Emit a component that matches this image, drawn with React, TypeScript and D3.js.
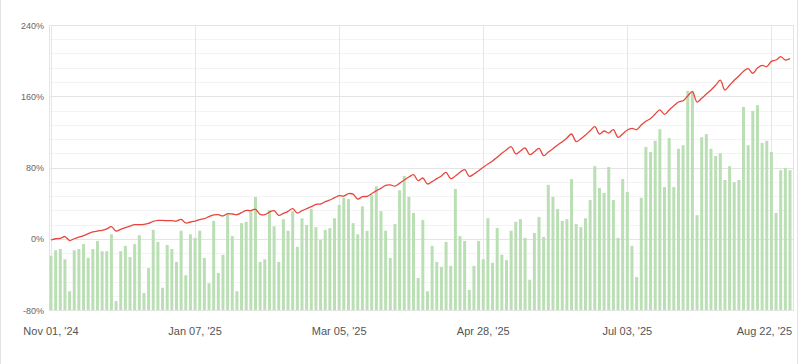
import React from "react";
import * as d3 from "d3";

const barValues: number[] = [
  -19, -13, -11.5, -23, -59, -13, -11.5, -6, -21.5, -11.5, -2.5, -14, -14, 5, -70, -14, -8, -20.5, -6, 4, -61, -33, 10, -3.5, -55, -7, -11.5, -26, 9, -41, 5, 1, 9,
  -21.5, -50, 20, -38.5, -18, 28, 3, -59, 17.5, 19, 31, 47, -26, -23, 32, 14, -26, 22, 9, 31, -9, 23, 15.5, 33.5, 13, -1.5, 10, 12, 23, 38, 46, 44.5,
  17.5, 5, 36.5, 9, 49, 59, 31, 9, -21.5, 16.5, 54.5, 70.5, 47, 29, -44, 21, -59, -8, -26, -31.5, -3.5, -30.5, 56, 3, -2.5, -57.5, -30.5, -2.5, -23, 23, -27, 12,
  -18, -24, 9, 19, 22, 1, -46, 6.5, 24.5, 2, 60.5, 47, 33.5, 20, 22, 67, 16.5, 13, 23, 43.5, 81.5, 57, 51.5, 80.5, 43.5, 1, 67, 52.5, -8, -43, 46, 103, 97.5,
  110, 123, 58, 113, 58, 101, 105, 166, 166, 26.5, 114, 117.5, 101, 93, 96, 66, 81.5, 63.5, 66, 148, 105, 143.5, 150, 107.5, 110, 97.5, 29, 77, 79.5, 77,
];

const lineValues: number[] = [
  -1.4, 0, 0.3, 2.5, -2, 0, 1.8, 3.5, 5.8, 7.6, 8.7, 9.5, 11, 13.6, 8.7, 10.6, 12.5, 14.3, 15.8, 15.8, 16.2, 17.3, 19.5, 20.6, 20.6, 20.3, 20.3, 19.9, 21.8, 17.7, 18.8, 19.9, 21.6,
  22.5, 24.8, 26.7, 27, 25.6, 28.1, 27.8, 27, 29.3, 31.9, 31.5, 33.1, 27.4, 27, 30, 31.5, 26.3, 28.5, 30.8, 33.8, 28.9, 31.5, 33.8, 36, 38.7, 39, 41.6, 43.5, 46.1, 48.4, 48, 50.6,
  50.2, 44.6, 47.2, 47.7, 50.6, 54, 56.6, 60, 60.4, 59.2, 62.2, 66, 69.3, 71.9, 65.2, 68.2, 61.5, 64.1, 67.5, 70.5, 74.6, 67.5, 70.5, 74.6, 77.5, 70.1, 72.7, 76.4, 80.2, 83.9, 87.3, 91.5,
  96, 100, 103.4, 95.2, 98.5, 101.9, 94.4, 97.7, 101.5, 93.3, 97.4, 101.1, 105.3, 109, 113.1, 117.6, 109, 112.3, 116.5, 121.3, 125.8, 117.6, 121, 118.7, 122.5, 113.9, 117.6, 122.1, 124, 122.5, 127.7, 132, 135,
  140.1, 144.6, 139.7, 144.6, 149.1, 153.5, 155, 160.3, 165.1, 153.5, 157.7, 162.5, 167, 172.3, 178.2, 167, 172.3, 177.9, 182.7, 188, 191, 185.8, 191.7, 194.7, 193.2, 199.2, 200.7, 204.4, 200.7, 202.2,
];

const xTickIndex: number[] = [0, 31, 62, 93, 124, 155];
const xTickLabels: string[] = ["Nov 01, '24", "Jan 07, '25", "Mar 05, '25", "Apr 28, '25", "Jul 03, '25", "Aug 22, '25"];
const yMajorTicks: number[] = [-80, 0, 80, 160, 240];

const W = 801;
const H = 364;
const plotL = 50;
const plotR = 793;
const plotT = 25;
const plotB = 310;

export default function App() {
  const n = barValues.length;
  const x = d3.scaleLinear().domain([0, n - 1]).range([51, 790]);
  const y = d3.scaleLinear().domain([-80, 240]).range([plotB, plotT]);
  const minorTicks = d3.range(-80, 240, 16).filter((v) => !yMajorTicks.includes(v));
  const line = d3
    .line<number>()
    .x((_, i) => x(i))
    .y((d) => y(d))
    .curve(d3.curveCatmullRom.alpha(0.5));
  const font = "'Liberation Sans', Arial, sans-serif";

  return (
    <svg
      width={W}
      height={H}
      style={{ position: "absolute", left: 0, top: 0, background: "#fff" }}
    >
      <line x1={0.5} x2={0.5} y1={0} y2={H} stroke="#e3e3e3" />
      <line x1={797.5} x2={797.5} y1={0} y2={H} stroke="#e3e3e3" />
      {minorTicks.map((v) => (
        <line key={"mn" + v} x1={plotL} x2={plotR} y1={Math.round(y(v)) + 0.5} y2={Math.round(y(v)) + 0.5} stroke="#f3f3f3" />
      ))}
      {yMajorTicks.map((v) => (
        <line key={"mj" + v} x1={plotL} x2={plotR} y1={Math.round(y(v)) + 0.5} y2={Math.round(y(v)) + 0.5} stroke="#e4e4e4" />
      ))}
      {xTickIndex.map((i) => (
        <line key={"vx" + i} x1={Math.round(x(i)) + 0.5} x2={Math.round(x(i)) + 0.5} y1={plotT} y2={plotB} stroke="#e6e6e6" />
      ))}
      <rect x={plotL - 0.5} y={plotT + 0.5} width={plotR - plotL + 1} height={plotB - plotT} fill="none" stroke="#e4e4e4" />
      {barValues.map((v, i) => (
        <rect
          key={"b" + i}
          x={x(i) - 1.5}
          y={y(v)}
          width={3}
          height={y(-80) - y(v)}
          fill="#bbdfb5"
        />
      ))}
      <path d={line(lineValues) || ""} fill="none" stroke="#e8453c" strokeWidth={1.3} />
      {yMajorTicks.map((v) => (
        <text key={"yl" + v} x={44} y={y(v) + 3.5} textAnchor="end" fontSize={9} fill="#666" fontFamily={font}>
          {v + "%"}
        </text>
      ))}
      {xTickIndex.map((idx, k) => {
        const cx = x(idx);
        const overflow = cx + 28 > plotR;
        return (
          <text
            key={"xl" + idx}
            x={overflow ? 792 : cx}
            y={335}
            textAnchor={overflow ? "end" : "middle"}
            fontSize={11}
            fill="#555"
            fontFamily={font}
          >
            {xTickLabels[k]}
          </text>
        );
      })}
    </svg>
  );
}
